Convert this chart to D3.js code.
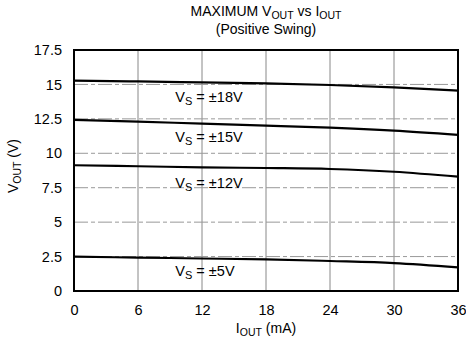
<!DOCTYPE html>
<html><head><meta charset="utf-8">
<script src="https://cdn.jsdelivr.net/npm/d3@7"></script>
<style>body{margin:0;background:#fff}svg{display:block}text{font-family:"Liberation Sans",Arial,sans-serif;fill:#000}</style>
</head><body><div id="chart"></div>
<script>
const xTicks = [0, 6, 12, 18, 24, 30, 36];
const yTicks = [0, 2.5, 5, 7.5, 10, 12.5, 15, 17.5];
const yTickLabels = ["0", "2.5", "5", "7.5", "10", "12.5", "15", "17.5"];
const iout = [0, 6, 12, 18, 24, 30, 36];
const vs18 = [15.27, 15.22, 15.15, 15.07, 14.96, 14.79, 14.55];
const vs15 = [12.42, 12.30, 12.15, 12.01, 11.86, 11.64, 11.33];
const vs12 = [9.13, 9.06, 8.98, 8.93, 8.86, 8.66, 8.30];
const vs5  = [2.49, 2.43, 2.36, 2.30, 2.18, 2.03, 1.72];
const seriesLabels = ["±18V", "±15V", "±12V", "±5V"];
const labelAt = [
  {x: 9.5, y: 13.72},
  {x: 9.5, y: 10.84},
  {x: 9.5, y: 7.48},
  {x: 9.5, y: 1.09}
];

const W = 466, H = 342;
const m = {l: 74, r: 8, t: 50, b: 51};
const FF = '"Liberation Sans",Arial,sans-serif';
const svg = d3.select("#chart").append("svg").attr("width", W).attr("height", H);
const x = d3.scaleLinear().domain([0, 36]).range([m.l, W - m.r]);
const y = d3.scaleLinear().domain([0, 17.5]).range([H - m.b, m.t]);

// gridlines
const g = svg.append("g");
g.selectAll(".vg").data(xTicks.slice(1, -1)).join("line")
  .attr("x1", d => x(d)).attr("x2", d => x(d)).attr("y1", y(0)).attr("y2", y(17.5))
  .attr("stroke", "#888").attr("stroke-width", 1);
g.selectAll(".hg").data(yTicks.slice(1, -1)).join("line")
  .attr("x1", x(0)).attr("x2", x(36)).attr("y1", d => y(d)).attr("y2", d => y(d))
  .attr("stroke", "#999").attr("stroke-width", 1).attr("stroke-dasharray", "14,3,4,3");

// frame
svg.append("rect").attr("x", x(0)).attr("y", y(17.5))
  .attr("width", x(36) - x(0)).attr("height", y(0) - y(17.5))
  .attr("fill", "none").attr("stroke", "#000").attr("stroke-width", 2);

// axes (labels only)
const xAxis = d3.axisBottom(x).tickValues(xTicks).tickSize(0).tickPadding(14);
const xa = svg.append("g").attr("transform", `translate(0,${y(0)})`).call(xAxis);
xa.select(".domain").remove();
xa.selectAll("text").attr("font-size", 14.5).style("font-family", FF);

const yAxis = d3.axisLeft(y).tickValues(yTicks).tickFormat((d, i) => yTickLabels[i]).tickSize(0).tickPadding(12);
const ya = svg.append("g").attr("transform", `translate(${x(0)},0)`).call(yAxis);
ya.select(".domain").remove();
ya.selectAll("text").attr("font-size", 14.5).style("font-family", FF);

// curves
const line = d3.line().x((d, i) => x(iout[i])).y(d => y(d)).curve(d3.curveMonotoneX);
[vs18, vs15, vs12, vs5].forEach(s => {
  svg.append("path").attr("d", line(s)).attr("fill", "none").attr("stroke", "#000").attr("stroke-width", 2.2);
});

// series labels
seriesLabels.forEach((lab, i) => {
  const t = svg.append("text").attr("x", x(labelAt[i].x)).attr("y", y(labelAt[i].y)).attr("font-size", 14.5);
  t.append("tspan").text("V");
  t.append("tspan").attr("font-size", 11).attr("dy", 3).text("S");
  t.append("tspan").attr("dy", -3).text(" = " + lab);
});

// title
const t1 = svg.append("text").attr("x", 266).attr("y", 16).attr("text-anchor", "middle").attr("font-size", 14);
t1.append("tspan").text("MAXIMUM V");
t1.append("tspan").attr("font-size", 10.5).attr("dy", 2.5).text("OUT");
t1.append("tspan").attr("dy", -2.5).text(" vs I");
t1.append("tspan").attr("font-size", 10.5).attr("dy", 2.5).text("OUT");
svg.append("text").attr("x", 266).attr("y", 34).attr("text-anchor", "middle").attr("font-size", 14).text("(Positive Swing)");

// x title
const xt = svg.append("text").attr("x", 266).attr("y", 333).attr("text-anchor", "middle").attr("font-size", 14);
xt.append("tspan").text("I");
xt.append("tspan").attr("font-size", 10.5).attr("dy", 3).text("OUT");
xt.append("tspan").attr("dy", -3).text(" (mA)");

// y title
const yt = svg.append("text").attr("transform", "translate(18,166) rotate(-90)").attr("text-anchor", "middle").attr("font-size", 14);
yt.append("tspan").text("V");
yt.append("tspan").attr("font-size", 10.5).attr("dy", 3).text("OUT");
yt.append("tspan").attr("dy", -3).text(" (V)");
</script></body></html>
